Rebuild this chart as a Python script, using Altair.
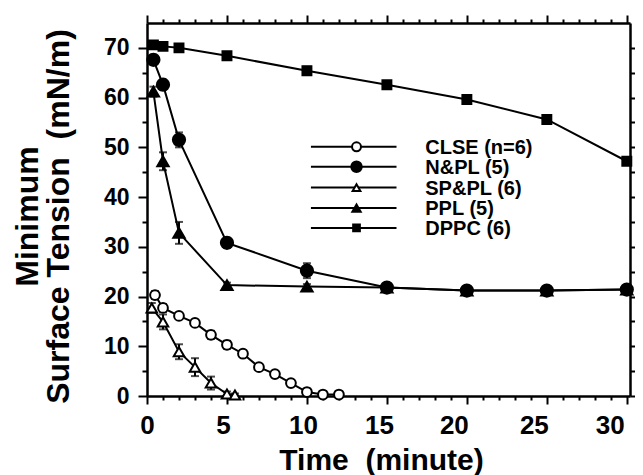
import altair as alt
import pandas as pd

# ---------------- data ----------------
series_keys = ["CLSE", "N&PL", "SP&PL", "PPL", "DPPC"]
legend_labels = ["CLSE (n=6)", "N&PL (5)", "SP&PL (6)", "PPL (5)", "DPPC (6)"]

clse_t = [0.5, 1, 2, 3, 4, 5, 6, 7, 8, 9, 10, 11, 12]
clse_v = [20.3, 17.7, 16.1, 14.7, 12.3, 10.3, 8.5, 5.8, 4.4, 2.6, 0.8, 0.3, 0.3]
clse_e = [0.8, 0.8, 0.6, 0.6, 0.8, 0.8, 0.6, 0.6, 0.6, 0.6, 0.5, 0.2, 0.2]

npl_t = [0.4, 1, 2, 5, 10, 15, 20, 25, 30]
npl_v = [67.6, 62.6, 51.5, 30.8, 25.2, 21.8, 21.2, 21.2, 21.4]
npl_e = [1.0, 1.0, 1.5, 1.0, 1.5, 0.5, 0.5, 0.5, 0.8]

sppl_t = [0.3, 1, 2, 3, 4, 5, 5.5]
sppl_v = [17.7, 14.9, 8.9, 5.8, 2.6, 0.4, 0.2]
sppl_e = [1.0, 1.5, 1.5, 1.8, 1.3, 0.5, 0.3]

ppl_t = [0.4, 1, 2, 5, 10, 15, 20, 25, 30]
ppl_v = [61.2, 47.2, 32.8, 22.3, 22.0, 21.8, 21.2, 21.2, 21.4]
ppl_e = [1.0, 1.8, 2.2, 0.5, 0.5, 0.3, 0.3, 0.3, 0.3]

dppc_t = [0.4, 1, 2, 5, 10, 15, 20, 25, 30]
dppc_v = [70.6, 70.3, 70.0, 68.4, 65.4, 62.6, 59.6, 55.6, 47.2]
dppc_e = [0.4, 0.4, 0.4, 0.5, 0.8, 0.5, 0.5, 0.6, 0.6]

x_ticks = list(range(0, 31))
y_ticks = list(range(0, 71, 5))

# legend rows (in data units of the plot)
legend_y = [50.1, 46.1, 41.9, 37.8, 33.8]

# ---------------- marker styles (kept apart from the data) ----------------
marker_size = {"CLSE": 95, "N&PL": 150, "SP&PL": 110, "PPL": 130, "DPPC": 80}
legend_marker_size = {"CLSE": 80, "N&PL": 110, "SP&PL": 60, "PPL": 70, "DPPC": 45}

# ---------------- build tables ----------------
rows = []
for key, ts, vs, es in [
    ("CLSE", clse_t, clse_v, clse_e),
    ("N&PL", npl_t, npl_v, npl_e),
    ("SP&PL", sppl_t, sppl_v, sppl_e),
    ("PPL", ppl_t, ppl_v, ppl_e),
    ("DPPC", dppc_t, dppc_v, dppc_e),
]:
    for t, v, e in zip(ts, vs, es):
        rows.append({"series": key, "t": t, "v": v, "lo": max(v - e, 0), "hi": v + e,
                     "sz": marker_size[key]})
df = pd.DataFrame(rows)

leg = pd.DataFrame({
    "series": series_keys,
    "label": legend_labels,
    "ly": legend_y,
    "sz": [legend_marker_size[k] for k in series_keys],
    "x0": [10.25] * 5,
    "x1": [15.6] * 5,
    "xm": [13.1] * 5,
    "xt": [17.4] * 5,
})

FONT = "Liberation Sans"
xs = alt.Scale(domain=[0, 30.2], nice=False, zero=False)
ys = alt.Scale(domain=[0, 75], nice=False, zero=False)

shape_scale = alt.Scale(domain=series_keys,
                        range=["circle", "circle", "triangle-up", "triangle-up", "square"])
fill_scale = alt.Scale(domain=series_keys,
                       range=["white", "black", "white", "black", "black"])

major5 = "datum.value % 5 == 0"
major10 = "datum.value % 10 == 0"

x_axis = alt.Axis(
    orient="bottom", values=x_ticks,
    labelExpr=f"{major5} ? datum.label : ''",
    tickSize={"condition": {"test": major5, "value": 8}, "value": 4},
    labelOffset={"condition": [
        {"test": "datum.value >= 28", "value": -17},
        {"test": "datum.value >= 18", "value": -13},
        {"test": "datum.value >= 13", "value": -8},
        {"test": "datum.value >= 3", "value": -4},
    ], "value": 0},
    labelOverlap=False, labelFlush=False,
    labelFont=FONT, labelFontSize=26, labelFontWeight="bold", labelColor="black",
    labelPadding=8,
    title="Time \u00a0(minute)", titleFont=FONT, titleFontSize=30,
    titleFontWeight="bold", titleColor="black", titlePadding=7,
    titleX=234,
    grid=False, domainColor="black", domainWidth=2.5, tickColor="black", tickWidth=2,
)
y_axis = alt.Axis(
    orient="left", values=y_ticks,
    labelExpr=f"{major10} ? datum.label : ''",
    tickSize={"condition": {"test": major10, "value": 9}, "value": 5},
    labelOverlap=False, labelFlush=False,
    labelFont=FONT, labelFontSize=23, labelFontWeight="bold", labelColor="black",
    labelPadding=9,
    title=["Minimum", "Surface Tension \u00a0(mN/m)"], titleFont=FONT, titleFontSize=32,
    titleFontWeight="bold", titleColor="black", titlePadding=28, titleLineHeight=31,
    titleY=193,
    grid=False, domainColor="black", domainWidth=2.5, tickColor="black", tickWidth=2,
)
x_top = alt.Axis(
    orient="top", values=x_ticks, labels=False, title=None,
    tickSize={"condition": {"test": major5, "value": 8}, "value": 4},
    grid=False, domainColor="black", domainWidth=2.5, tickColor="black", tickWidth=2,
)
y_right = alt.Axis(
    orient="right", values=y_ticks, labels=False, title=None,
    tickSize={"condition": {"test": major10, "value": 6}, "value": 5},
    grid=False, domainColor="black", domainWidth=2.5, tickColor="black", tickWidth=2,
)

base = alt.Chart(df)

lines = base.mark_line(color="black", strokeWidth=2).encode(
    x=alt.X("t:Q", scale=xs, axis=x_axis),
    y=alt.Y("v:Q", scale=ys, axis=y_axis),
    detail="series:N",
)
err = base.mark_rule(color="black", strokeWidth=2).encode(
    x=alt.X("t:Q", scale=xs, axis=None),
    y=alt.Y("lo:Q", scale=ys, axis=None),
    y2="hi:Q",
)
cap_hi = base.mark_tick(orient="horizontal", color="black", size=8, thickness=2).encode(
    x=alt.X("t:Q", scale=xs, axis=None),
    y=alt.Y("hi:Q", scale=ys, axis=None),
)
cap_lo = base.mark_tick(orient="horizontal", color="black", size=8, thickness=2).encode(
    x=alt.X("t:Q", scale=xs, axis=None),
    y=alt.Y("lo:Q", scale=ys, axis=None),
)
points = base.mark_point(stroke="black", strokeWidth=2, opacity=1, filled=False).encode(
    x=alt.X("t:Q", scale=xs, axis=None),
    y=alt.Y("v:Q", scale=ys, axis=None),
    shape=alt.Shape("series:N", scale=shape_scale, legend=None),
    fill=alt.Fill("series:N", scale=fill_scale, legend=None),
    size=alt.Size("sz:Q", scale=None, legend=None),
)

lbase = alt.Chart(leg)
leg_lines = lbase.mark_rule(color="black", strokeWidth=2).encode(
    x=alt.X("x0:Q", scale=xs, axis=None),
    x2="x1:Q",
    y=alt.Y("ly:Q", scale=ys, axis=None),
)
leg_pts = lbase.mark_point(stroke="black", strokeWidth=2, opacity=1, filled=False).encode(
    x=alt.X("xm:Q", scale=xs, axis=None),
    y=alt.Y("ly:Q", scale=ys, axis=None),
    shape=alt.Shape("series:N", scale=shape_scale, legend=None),
    fill=alt.Fill("series:N", scale=fill_scale, legend=None),
    size=alt.Size("sz:Q", scale=None, legend=None),
)
leg_text = lbase.mark_text(align="left", baseline="middle", font=FONT, fontSize=20,
                           fontWeight="bold", color="black", dy=1).encode(
    x=alt.X("xt:Q", scale=xs, axis=None),
    y=alt.Y("ly:Q", scale=ys, axis=None),
    text="label:N",
)

frame = base.mark_point(opacity=0).encode(
    x=alt.X("t:Q", scale=xs, axis=x_top),
    y=alt.Y("v:Q", scale=ys, axis=y_right),
)

chart = alt.layer(
    lines, err, cap_hi, cap_lo, points, leg_lines, leg_pts, leg_text, frame
).resolve_scale(
    shape="shared", fill="shared"
).resolve_axis(
    x="independent", y="independent"
).properties(
    width=483, height=373,
    autosize=alt.AutoSizeParams(type="none"),
    padding={"left": 139, "top": 15, "right": 5, "bottom": 95},
).configure_view(stroke=None).configure(background="white")

chart.save("out.html", embed_options={"renderer": "svg", "actions": False})
